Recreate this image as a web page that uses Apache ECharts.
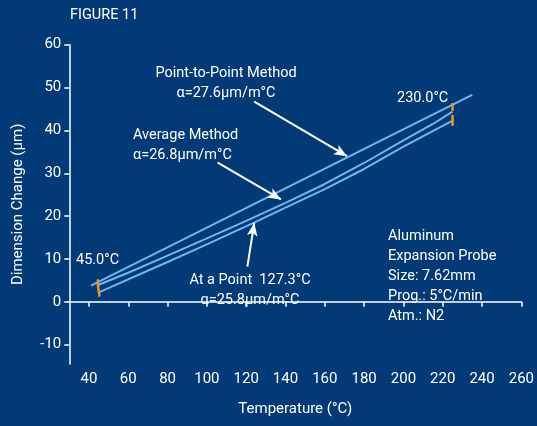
<!DOCTYPE html>
<html><head><meta charset="utf-8">
<script src="https://cdn.jsdelivr.net/npm/echarts@6/dist/echarts.min.js"></script>
<style>html,body{margin:0;padding:0;background:#013a77;}#c{width:537px;height:426px;}</style>
</head><body><div id="c"></div>
<script>
// ---- data ----
const xTicks = [40,60,80,100,120,140,160,180,200,220,240,260];
const yTicks = [-10,0,10,20,30,40,50,60];
const pointToPoint = [[41,3.8],[235,48.3]];
const averageCurve = [[45,4.0],[60,6.8],[80,10.8],[100,14.8],[120,18.9],[140,23.1],[160,27.5],[180,32.4],[200,37.7],[215,41.5],[225,44.4]];
const atPointCurve = [[45,2.2],[80,9.3],[100,13.4],[124,18.5],[140,22.0],[160,26.3],[180,31.0],[200,36.2],[225,42.3]];
const marker45 = [[44.6,5.3],[44.6,3.7],[45.4,3.4],[45.4,1.2]];
const marker230a = [[225,46.4],[225,44.6]];
const marker230b = [[225,43.6],[225,41.1]];
const arrows = [
  [[124.1,46.7],[171.3,34.0]],
  [[105.5,32.5],[137.7,23.9]],
  [[120.6,8.2],[124.1,18.4]]
];
const infoLines = ['Aluminum','Expansion Probe','Size: 7.62mm','Prog.: 5°C/min','Atm.: N2'];

const FONT = 'Roboto';
const WHITE = '#ffffff';
const LINE = '#6db8ed';
const ORANGE = '#f39322';

const chart = echarts.init(document.getElementById('c'), null, {renderer:'canvas'});

function lineSeries(data, color, width){
  return {type:'line', data:data, showSymbol:false, symbol:'none', smooth:false,
    lineStyle:{color:color, width:width}, silent:true, animation:false};
}

const txt = (x,y,t,opt={}) => ({type:'text', x:x, y:y, z:100,
  style:Object.assign({text:t, fill:WHITE, font:'14.5px '+FONT, textAlign:'left', textVerticalAlign:'middle'}, opt)});

const graphics = [
  txt(70,15,'FIGURE 11',{font:'14.5px '+FONT}),
  txt(226,73,'Point-to-Point Method',{textAlign:'center'}),
  txt(226,93,'α=27.6µm/m°C',{textAlign:'center'}),
  txt(133,135,'Average Method'),
  txt(133,155,'α=26.8µm/m°C'),
  txt(76,260,'45.0°C'),
  txt(397,98,'230.0°C'),
  txt(250,280,'At a Point  127.3°C',{textAlign:'center'}),
  txt(250,300,'α=25.8µm/m°C',{textAlign:'center'})
];
infoLines.forEach((t,i)=>graphics.push(txt(388,236+i*20.2,t)));

const arrowSeries = {type:'line', data:[], silent:true, animation:false,
  markLine:{silent:true, animation:false, symbol:['none','arrow'], symbolSize:[8,13],
    lineStyle:{color:WHITE, width:2, type:'solid'}, label:{show:false},
    data: arrows.map(a=>[{coord:a[0]},{coord:a[1]}])}};

chart.setOption({
  backgroundColor:'#013a77',
  animation:false,
  grid:{left:69.3, right:13.7, top:44.7, bottom:62},
  xAxis:{type:'value', min:30, max:260,
    name:'Temperature (°C)', nameLocation:'middle', nameGap:38,
    nameTextStyle:{color:WHITE, fontFamily:FONT, fontSize:15},
    axisLine:{show:true, lineStyle:{color:WHITE, width:1.5}},
    axisTick:{show:true, length:5, lineStyle:{color:WHITE, width:1.5}, customValues:xTicks},
    axisLabel:{color:WHITE, fontFamily:FONT, fontSize:15, margin:8, customValues:xTicks},
    splitLine:{show:false}},
  yAxis:{type:'value', min:-14.5, max:60,
    name:'Dimension Change (µm)', nameLocation:'middle', nameGap:44, nameRotate:90,
    nameTextStyle:{color:WHITE, fontFamily:FONT, fontSize:15},
    axisLine:{show:true, lineStyle:{color:WHITE, width:1.5}},
    axisTick:{show:true, length:5, lineStyle:{color:WHITE, width:1.5}, customValues:yTicks},
    axisLabel:{color:WHITE, fontFamily:FONT, fontSize:15, margin:8, customValues:yTicks},
    splitLine:{show:false}},
  series:[
    lineSeries(pointToPoint, LINE, 2),
    lineSeries(averageCurve, LINE, 2),
    lineSeries(atPointCurve, LINE, 2),
    lineSeries(marker45, ORANGE, 2.5),
    lineSeries(marker230a, ORANGE, 2.5),
    lineSeries(marker230b, ORANGE, 2.5),
    arrowSeries
  ],
  graphic:graphics
});
</script></body></html>
